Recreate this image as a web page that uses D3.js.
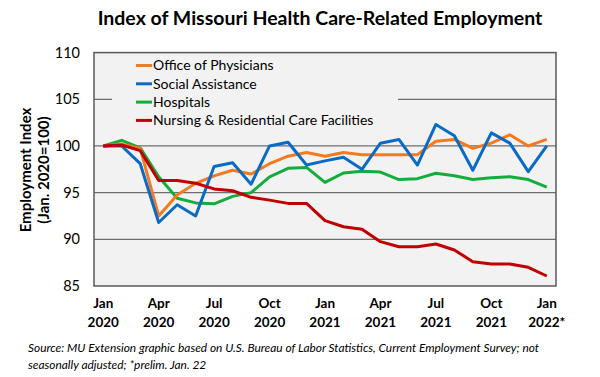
<!DOCTYPE html>
<html lang="en">
<head>
<meta charset="UTF-8">
<title>Index of Missouri Health Care-Related Employment</title>
<script src="https://cdnjs.cloudflare.com/ajax/libs/d3/7.8.5/d3.min.js"></script>
<style>
    * { margin: 0; padding: 0; box-sizing: border-box; }
    body { background: #ffffff; width: 600px; height: 377px; overflow: hidden; }
    svg text { font-family: Lato, "Open Sans", sans-serif; fill: #000; }
</style>
</head>
<body>
<div id="chart"></div>
<script>
    // Months, Jan 2020 .. Jan 2022
    const months = ["2020-01","2020-02","2020-03","2020-04","2020-05","2020-06","2020-07","2020-08","2020-09",
        "2020-10","2020-11","2020-12","2021-01","2021-02","2021-03","2021-04","2021-05","2021-06","2021-07",
        "2021-08","2021-09","2021-10","2021-11","2021-12","2022-01"];

    // tick labels every 3 months: [month, line1, line2]
    const tickLabels = [
        ["2020-01", "Jan", "2020"], ["2020-04", "Apr", "2020"], ["2020-07", "Jul", "2020"],
        ["2020-10", "Oct", "2020"], ["2021-01", "Jan", "2021"], ["2021-04", "Apr", "2021"],
        ["2021-07", "Jul", "2021"], ["2021-10", "Oct", "2021"], ["2022-01", "Jan", "2022*"]
    ];
    const yTicks = [85, 90, 95, 100, 105, 110];

    const physicians = [100, 100.2, 99.75, 92.5, 94.75, 96.0, 96.8, 97.4, 97.0, 98.1, 98.9, 99.3, 98.9,
        99.3, 99.07, 99.07, 99.07, 99.07, 100.5, 100.7, 99.75, 100.3, 101.2, 100.0, 100.7];
    const socialAssistance = [100, 100, 98.1, 91.8, 93.7, 92.5, 97.8, 98.2, 95.9, 100, 100.4, 97.96, 98.4,
        98.8, 97.5, 100.3, 100.7, 97.96, 102.3, 101.1, 97.4, 101.4, 100.3, 97.25, 100];
    const hospitals = [100, 100.6, 99.8, 96.7, 94.4, 93.9, 93.8, 94.6, 95.0, 96.7, 97.6, 97.7, 96.1,
        97.1, 97.3, 97.2, 96.4, 96.5, 97.07, 96.8, 96.4, 96.6, 96.7, 96.4, 95.6];
    const nursing = [100, 100.1, 99.5, 96.3, 96.3, 96.0, 95.4, 95.2, 94.5, 94.2, 93.85, 93.85, 92.0,
        91.35, 91.07, 89.75, 89.2, 89.2, 89.5, 88.86, 87.6, 87.36, 87.36, 87.0, 86.07];

    const seriesNames = ["Office of Physicians", "Social Assistance", "Hospitals", "Nursing & Residential Care Facilities"];
    const seriesColors = ["#F47A1F", "#0B6BC4", "#12AD3C", "#C00000"];
    const seriesValues = [physicians, socialAssistance, hospitals, nursing];

    const width = 600, height = 377;
    const margin = {top: 52.6, right: 44, bottom: 91, left: 94};

    const svg = d3.select("#chart").append("svg")
        .attr("width", width).attr("height", height);

    const x = d3.scalePoint().domain(months)
        .range([margin.left, width - margin.right]).padding(0.5);
    const y = d3.scaleLinear().domain([85, 110])
        .range([height - margin.bottom, margin.top]);

    // plot background
    svg.append("rect")
        .attr("x", margin.left).attr("y", margin.top)
        .attr("width", width - margin.left - margin.right)
        .attr("height", height - margin.top - margin.bottom)
        .attr("fill", "#f2f2f2");

    // gridlines
    svg.append("g").selectAll("line")
        .data([90, 95, 100, 105])
        .join("line")
        .attr("x1", margin.left).attr("x2", width - margin.right)
        .attr("y1", d => y(d)).attr("y2", d => y(d))
        .attr("stroke", "#6e6e6e").attr("stroke-width", 1.3);

    // legend box covers gridline (like the original)
    svg.append("rect")
        .attr("x", 112).attr("y", 56).attr("width", 286).attr("height", 72)
        .attr("fill", "#f2f2f2");

    // frame
    svg.append("rect")
        .attr("x", margin.left).attr("y", margin.top)
        .attr("width", width - margin.left - margin.right)
        .attr("height", height - margin.top - margin.bottom)
        .attr("fill", "none").attr("stroke", "#595959").attr("stroke-width", 1.5);

    // y tick labels
    svg.append("g").selectAll("text")
        .data(yTicks)
        .join("text")
        .attr("x", 80).attr("y", d => y(d))
        .attr("dy", "0.35em")
        .attr("text-anchor", "end")
        .style("font-size", "14.5px")
        .text(d => d);

    // x tick labels
    const xt = svg.append("g").selectAll("text")
        .data(tickLabels)
        .join("text")
        .attr("text-anchor", "middle")
        .style("font-size", "13.5px")
        .style("font-weight", "bold");
    xt.append("tspan").attr("x", d => x(d[0])).attr("y", 308).text(d => d[1]);
    xt.append("tspan").attr("x", d => x(d[0])).attr("y", 327).text(d => d[2]);

    // y axis title
    const yt = svg.append("text")
        .attr("transform", "translate(0,170) rotate(-90)")
        .attr("text-anchor", "middle")
        .style("font-size", "15px")
        .style("font-weight", "bold");
    yt.append("tspan").attr("x", 0).attr("y", 31).text("Employment Index");
    yt.append("tspan").attr("x", 0).attr("y", 49).text("(Jan. 2020=100)");

    // lines
    const line = d3.line()
        .x((d, i) => x(months[i]))
        .y(d => y(d));

    // draw in order so nursing is on top like the original
    [2, 0, 1, 3].forEach(k => {
        svg.append("path")
            .datum(seriesValues[k])
            .attr("d", line)
            .attr("fill", "none")
            .attr("stroke", seriesColors[k])
            .attr("stroke-width", 3)
            .attr("stroke-linejoin", "round");
    });

    // legend
    const legend = svg.append("g").selectAll("g")
        .data(seriesNames)
        .join("g")
        .attr("transform", (d, i) => `translate(136,${65.5 + i * 18.3})`);
    legend.append("line")
        .attr("x1", 0).attr("x2", 16)
        .attr("stroke", (d, i) => seriesColors[i])
        .attr("stroke-width", 3);
    legend.append("text")
        .attr("x", 17).attr("dy", "0.35em")
        .style("font-size", "14px")
        .text(d => d);

    // title
    svg.append("text")
        .attr("x", 320).attr("y", 25)
        .attr("text-anchor", "middle")
        .style("font-size", "19.5px")
        .style("font-weight", "bold")
        .text("Index of Missouri Health Care-Related Employment");

    // source note
    const src = svg.append("text")
        .style("font-size", "11.9px")
        .style("font-style", "italic");
    src.append("tspan").attr("x", 28).attr("y", 352)
        .text("Source: MU Extension graphic based on U.S. Bureau of Labor Statistics, Current Employment Survey; not");
    src.append("tspan").attr("x", 28).attr("y", 369)
        .text("seasonally adjusted; *prelim. Jan. 22");
</script>
</body>
</html>
